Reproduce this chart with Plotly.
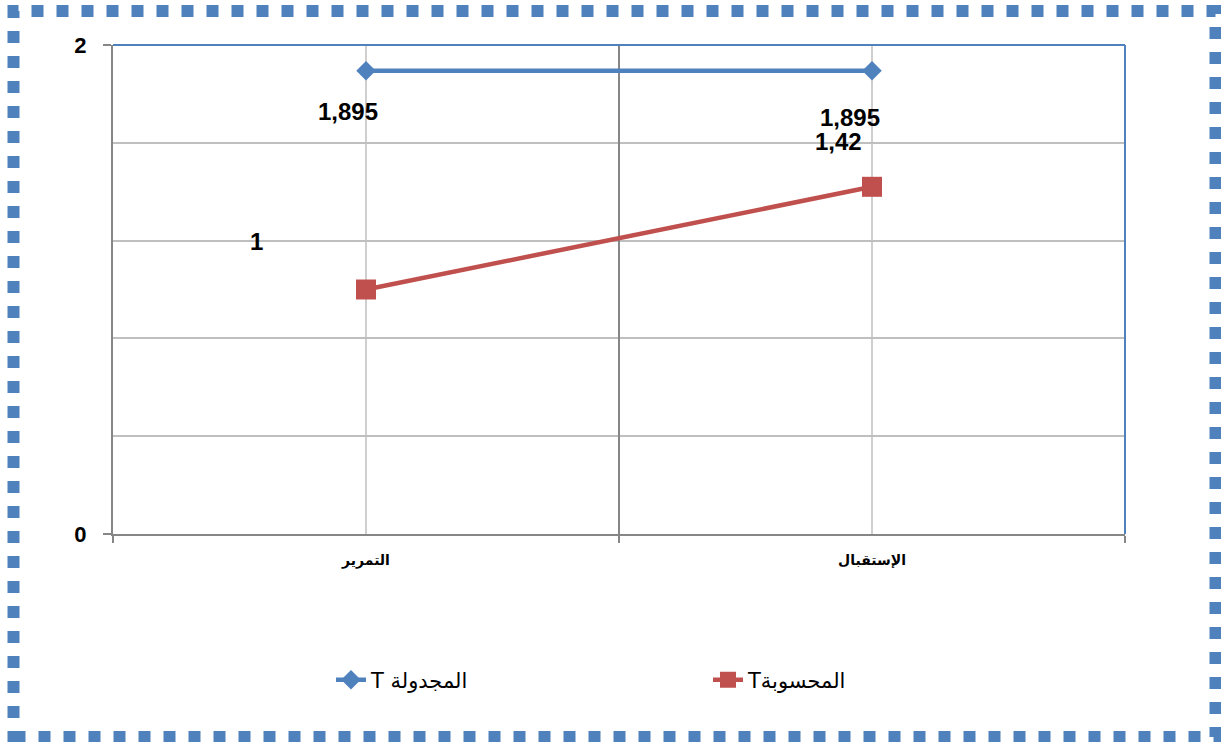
import plotly.graph_objects as go

categories = ["التمرير", "الإستقبال"]
series_names = ["T المجدولة", "Tالمحسوبة"]
tabulated_T = [1.895, 1.895]
computed_T = [1.0, 1.42]
tabulated_labels = ["1,895", "1,895"]
computed_labels = ["1", "1,42"]

BLUE = "#4F81BD"
RED = "#C0504D"
AXIS = "#868686"
GRID = "#BFBFBF"

fig = go.Figure()
fig.add_trace(go.Scatter(
    x=categories, y=tabulated_T, name=series_names[0], mode="lines+markers",
    line=dict(color=BLUE, width=4.5),
    marker=dict(symbol="diamond", size=15, color=BLUE),
))
fig.add_trace(go.Scatter(
    x=categories, y=computed_T, name=series_names[1], mode="lines+markers",
    line=dict(color=RED, width=4.5),
    marker=dict(symbol="square", size=20, color=RED),
))

label_font = dict(family="Liberation Sans, Arial", size=24, color="black")
tick_font = dict(family="Liberation Sans, Arial", size=22, color="black")
# data labels with offsets
offsets_tab = [(-18, -41), (-22, -47)]
offsets_comp = [(-110, 48), (-34, 45)]
for i, c in enumerate(categories):
    fig.add_annotation(x=c, y=tabulated_T[i], text="<b>%s</b>" % tabulated_labels[i],
                       showarrow=False, xshift=offsets_tab[i][0], yshift=offsets_tab[i][1],
                       font=label_font)
    fig.add_annotation(x=c, y=computed_T[i], text="<b>%s</b>" % computed_labels[i],
                       showarrow=False, xshift=offsets_comp[i][0], yshift=offsets_comp[i][1],
                       font=label_font)

shapes = []
# category gridlines
for c in categories:
    shapes.append(dict(type="line", xref="x", yref="paper", x0=c, x1=c, y0=0, y1=1,
                       line=dict(color=GRID, width=1.5), layer="below"))
# plot area top and right border (blue)
shapes.append(dict(type="line", xref="paper", yref="paper", x0=0, x1=1, y0=1, y1=1,
                   line=dict(color=BLUE, width=2)))
shapes.append(dict(type="line", xref="paper", yref="paper", x0=1, x1=1, y0=0, y1=1,
                   line=dict(color=BLUE, width=2)))
# outer dotted frame
shapes.append(dict(type="rect", xref="paper", yref="paper",
                   x0=(13.5 - 113) / 1012, x1=(1215.5 - 113) / 1012,
                   y0=(534 - 737) / 489, y1=(534 - 11) / 489,
                   line=dict(color=BLUE, width=12, dash="12px,13px")))

fig.update_layout(
    width=1221, height=742,
    margin=dict(l=113, r=96, t=45, b=208),
    paper_bgcolor="white", plot_bgcolor="white",
    showlegend=True,
    legend=dict(orientation="h", x=(331 - 113) / 1012, xanchor="left",
                y=(534 - 680) / 489, yanchor="middle",
                entrywidth=332, entrywidthmode="pixels",
                font=dict(family="DejaVu Sans, Liberation Sans, Arial", size=21, color="black"),
                bgcolor="rgba(0,0,0,0)"),
    shapes=shapes,
    xaxis=dict(type="category", range=[-0.5, 1.5], tickson="boundaries",
               ticks="outside", ticklen=7, tickwidth=1.5, tickcolor=AXIS,
               showgrid=True, gridcolor=AXIS, gridwidth=1.5,
               showline=True, linecolor=AXIS, linewidth=2,
               tickfont=dict(family="DejaVu Sans, Liberation Sans, Arial", size=14, color="black"),
               tickprefix="<b>", ticksuffix="</b>",
               ticklabelstandoff=12, zeroline=False, fixedrange=True),
    yaxis=dict(range=[0, 2], tickvals=[0, 2], ticktext=["<b>0</b>", "<b>2</b>"],
               ticks="outside", ticklen=8, tickwidth=1.5, tickcolor=AXIS,
               showgrid=False, showline=True, linecolor=AXIS, linewidth=2,
               zeroline=False, ticklabelstandoff=12,
               tickfont=tick_font,
               minor=dict(tickvals=[0.4, 0.8, 1.2, 1.6], showgrid=True,
                          gridcolor=GRID, gridwidth=1.5, ticks=""),
               fixedrange=True),
)

fig.write_html("out.html")
